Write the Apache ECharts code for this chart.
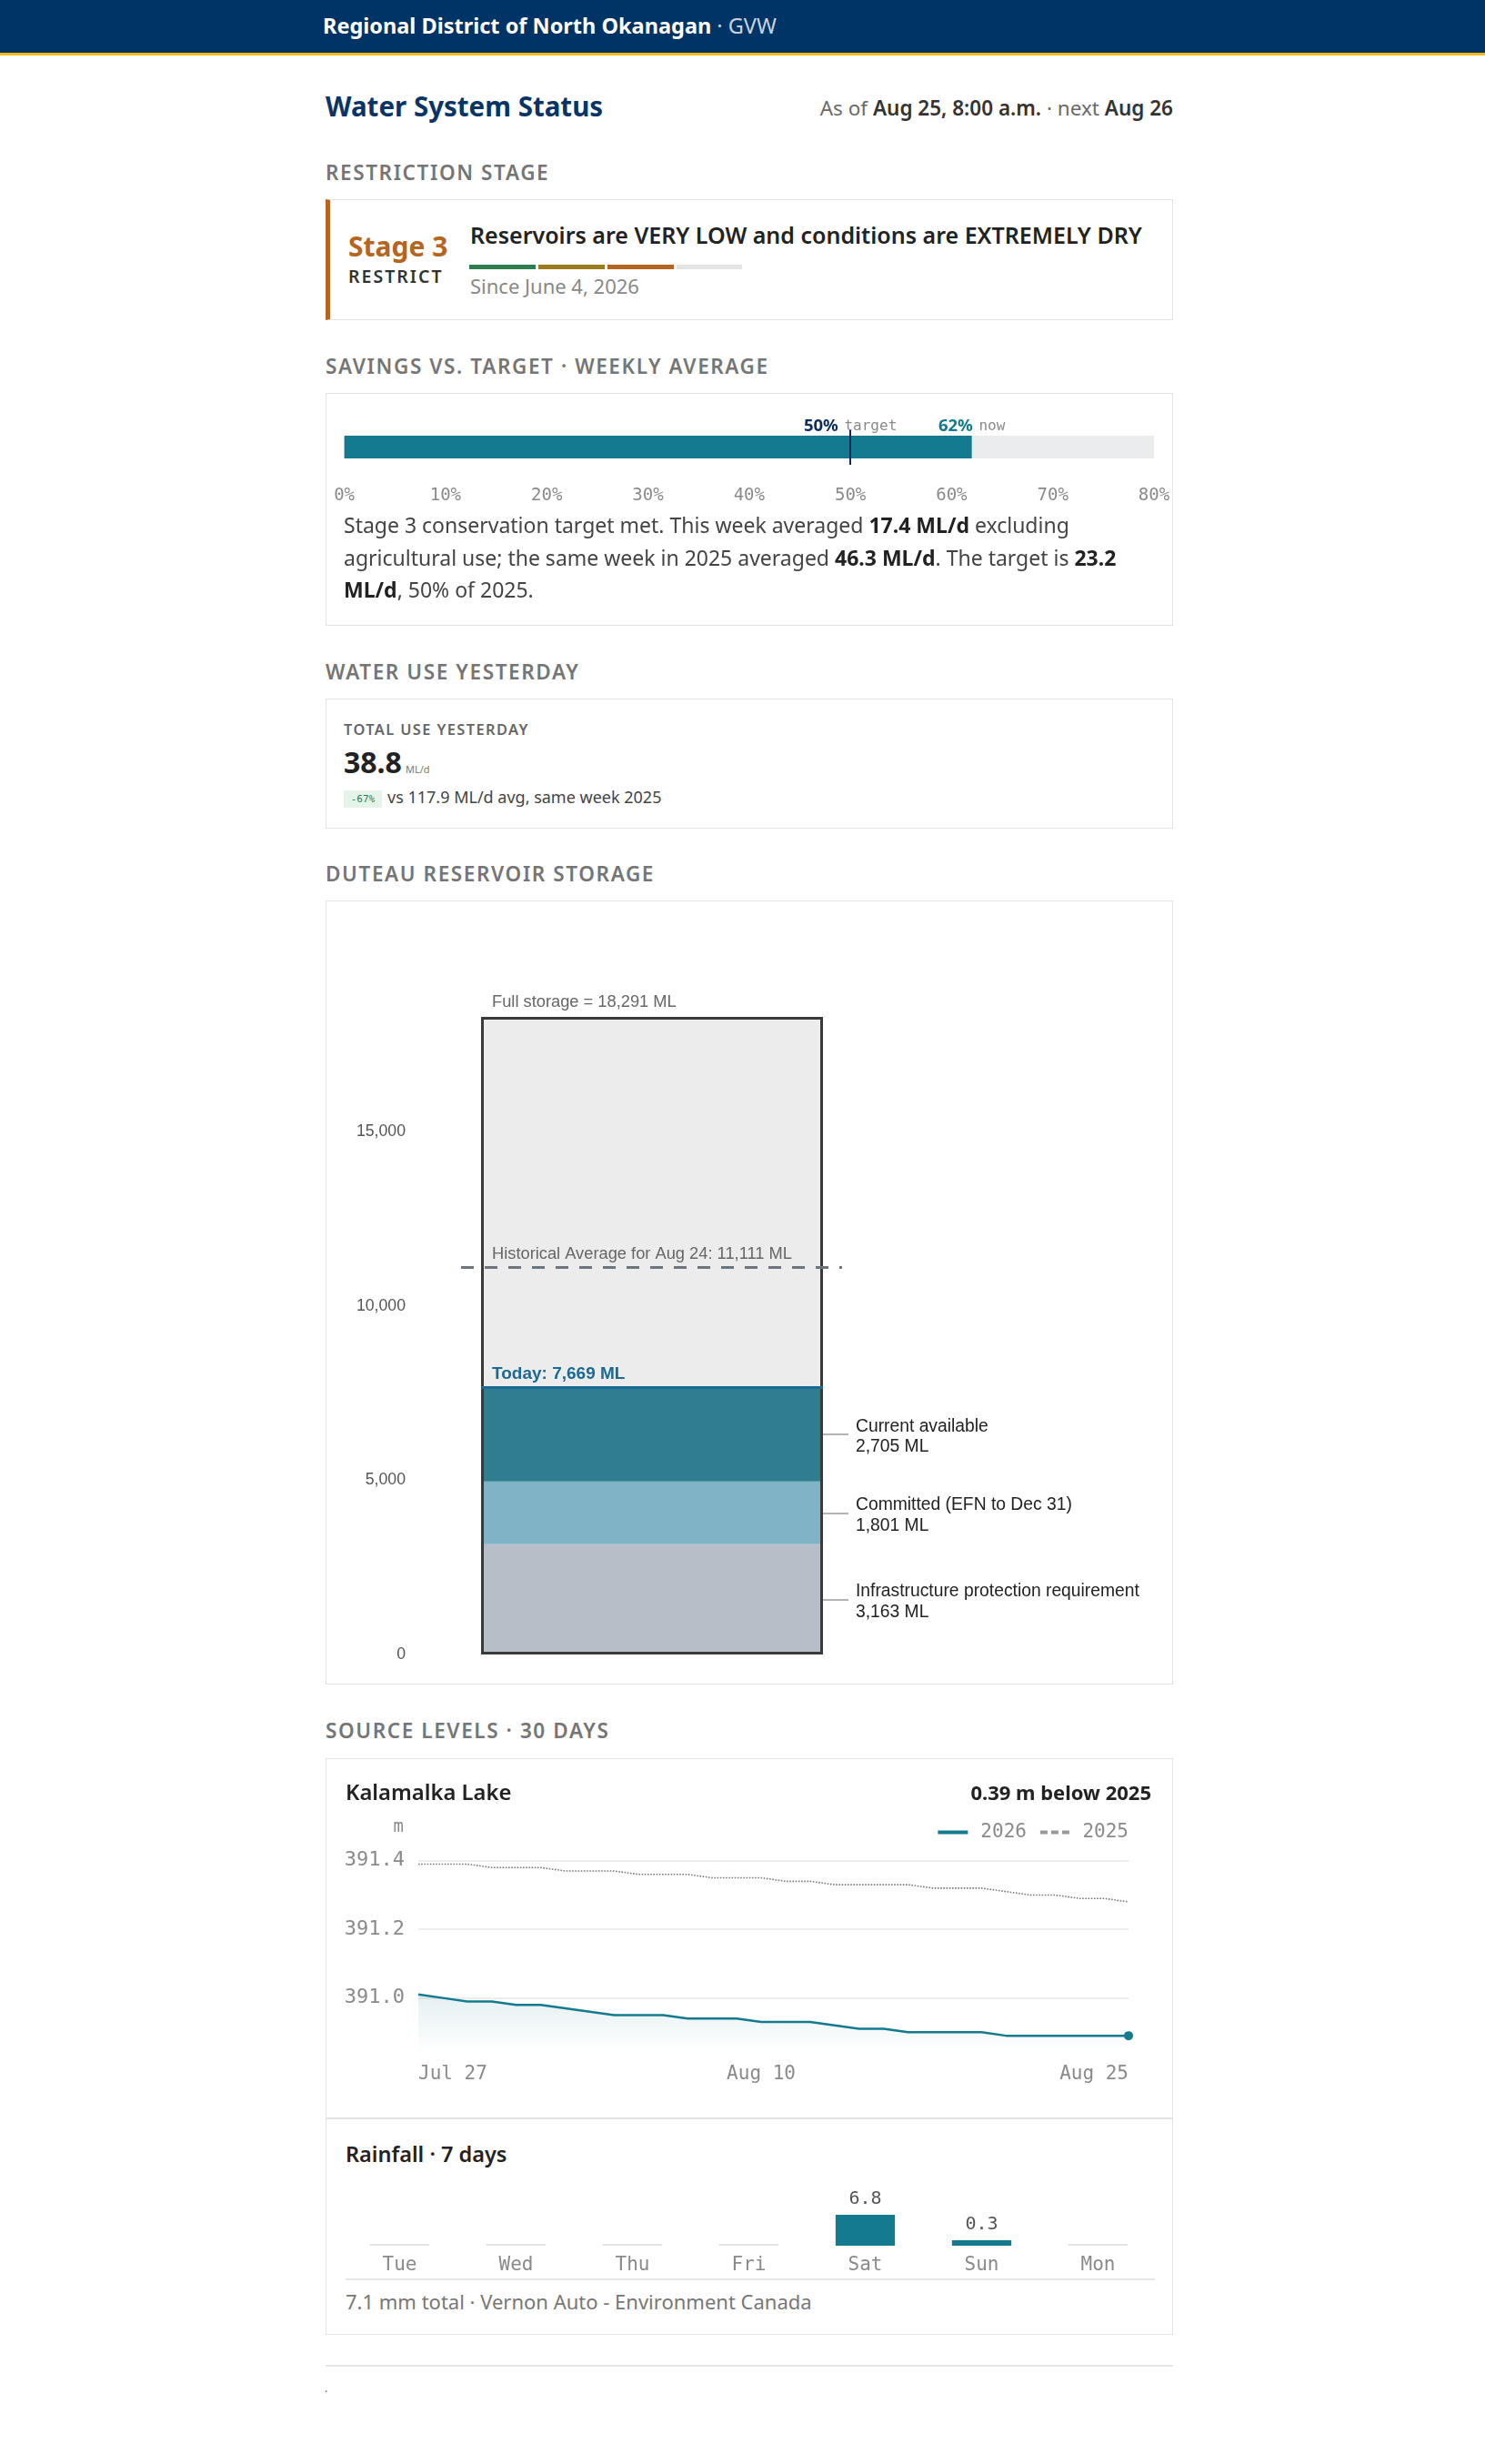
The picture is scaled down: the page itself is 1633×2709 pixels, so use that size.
<!DOCTYPE html>
<html><head><meta charset="utf-8">
<script src="https://cdn.jsdelivr.net/npm/echarts@6/dist/echarts.min.js"></script>
<style>
html,body{margin:0;padding:0;background:#fff;}
body{width:1633px;height:2709px;position:relative;font-family:'Noto Sans',sans-serif;overflow:hidden;}
.abs{position:absolute;white-space:nowrap;line-height:1;}
.hdr{position:absolute;left:0;top:0;width:1633px;height:58px;background:#003366;border-bottom:3px solid #fcba19;}
.sec{position:absolute;left:358px;font-size:22.5px;font-weight:600;letter-spacing:1.6px;color:#757575;line-height:1;white-space:nowrap;}
.box{position:absolute;left:358px;width:932px;border:1.5px solid #e3e3e3;box-sizing:border-box;background:#fff;}
.chart{position:absolute;}
b{font-weight:700;color:#222;}
</style></head><body>
<div class="hdr"></div>
<div class="abs" style="left:355px;top:17px;font-size:23.5px;color:#fff;font-weight:700;">Regional District of North Okanagan<span style="font-weight:400;color:#c9d3e0;"> · GVW</span></div>

<div class="abs" style="left:358px;top:102px;font-size:29.5px;font-weight:700;color:#0b3466;">Water System Status</div>
<div class="abs" style="right:343px;top:108px;font-size:22.5px;color:#6a6a6a;">As of <b style="color:#333;font-weight:600;">Aug 25, 8:00 a.m.</b> · next <b style="color:#333;font-weight:600;">Aug 26</b></div>

<div class="sec" style="top:179px;">RESTRICTION STAGE</div>
<div class="box" style="top:219px;height:133px;border-left:5px solid #b5651d;"></div>
<div class="abs" style="left:383px;top:256px;font-size:30px;font-weight:700;color:#b5651d;">Stage 3</div>
<div class="abs" style="left:383px;top:294px;font-size:19.5px;font-weight:600;letter-spacing:2px;color:#333;">RESTRICT</div>
<div class="abs" style="left:517px;top:246px;font-size:25px;font-weight:600;color:#222;">Reservoirs are VERY LOW and conditions are EXTREMELY DRY</div>
<div class="abs" style="left:516px;top:291px;width:73px;height:5px;background:#2e7d4f;"></div>
<div class="abs" style="left:592px;top:291px;width:73px;height:5px;background:#9a7d1a;"></div>
<div class="abs" style="left:668px;top:291px;width:73px;height:5px;background:#b5651d;"></div>
<div class="abs" style="left:744px;top:291px;width:72px;height:5px;background:#e4e4e4;"></div>
<div class="abs" style="left:517px;top:303px;font-size:22px;color:#888;">Since June 4, 2026</div>

<div class="sec" style="top:392px;">SAVINGS VS. TARGET · WEEKLY AVERAGE</div>
<div class="box" style="top:432px;height:256px;"></div>
<div id="savings" class="chart" style="left:358px;top:432px;width:932px;height:130px;"></div>
<div style="position:absolute;left:378px;top:560px;width:880px;font-size:23px;line-height:35.5px;color:#444;">Stage 3 conservation target met. This week averaged <b>17.4 ML/d</b> excluding agricultural use; the same week in 2025 averaged <b>46.3 ML/d</b>. The target is <b>23.2 ML/d</b>, 50% of 2025.</div>

<div class="sec" style="top:728px;">WATER USE YESTERDAY</div>
<div class="box" style="top:768px;height:143px;"></div>
<div class="abs" style="left:378px;top:794px;font-size:16.4px;font-weight:600;letter-spacing:1.4px;color:#666;">TOTAL USE YESTERDAY</div>
<div class="abs" style="left:378px;top:822px;font-size:32px;font-weight:700;color:#222;">38.8<span style="font-size:11px;font-weight:400;color:#777;margin-left:4px;">ML/d</span></div>
<div class="abs" style="left:378px;top:869px;height:19px;width:42px;background:#e5f3e9;color:#2e7d4f;font-family:'DejaVu Sans Mono',monospace;font-size:11px;line-height:19px;text-align:center;">-67%</div>
<div class="abs" style="left:426px;top:867px;font-size:18px;color:#444;">vs 117.9 ML/d avg, same week 2025</div>

<div class="sec" style="top:950px;">DUTEAU RESERVOIR STORAGE</div>
<div class="box" style="top:990px;height:862px;"></div>
<div id="reservoir" class="chart" style="left:358px;top:990px;width:932px;height:862px;"></div>

<div class="sec" style="top:1892px;">SOURCE LEVELS · 30 DAYS</div>
<div class="box" style="top:1933px;height:634px;"></div>
<div id="lake" class="chart" style="left:358px;top:1933px;width:932px;height:396px;"></div>
<div class="abs" style="left:380px;top:1959px;font-size:23.8px;font-weight:600;color:#222;">Kalamalka Lake</div>
<div class="abs" style="right:367px;top:1959px;font-size:22px;font-weight:700;color:#222;">0.39 m below 2025</div>
<div class="abs" style="left:358px;top:2328px;width:932px;height:1.5px;background:#e3e3e3;"></div>
<div class="abs" style="left:380px;top:2357px;font-size:23.5px;font-weight:600;color:#222;">Rainfall · 7 days</div>
<div id="rain" class="chart" style="left:358px;top:2330px;width:932px;height:176px;"></div>
<div class="abs" style="left:380px;top:2505px;width:890px;height:1.5px;background:#e6e6e6;"></div>
<div class="abs" style="left:380px;top:2519px;font-size:22px;color:#777;">7.1 mm total · Vernon Auto - Environment Canada</div>

<div class="abs" style="left:358px;top:2600px;width:932px;height:1.5px;background:#e6e6e6;"></div>
<div class="abs" style="left:357px;top:2620px;font-size:12px;color:#666;">.</div>

<script>
// ---------- data ----------
const savingsAxisTicks = [0, 10, 20, 30, 40, 50, 60, 70, 80];
const savingsNowPct = [62];
const savingsTargetPct = [50];

const resCategories = ['Duteau Reservoir'];
const resSegmentNames = ['Infrastructure protection requirement', 'Committed (EFN to Dec 31)', 'Current available'];
const resSegmentValues = [3163, 1801, 2705];
const resFullStorage = [18291];
const resToday = [7669];
const resHistAvg = [11111];
const resHistLabel = ['Historical Average for Aug 24'];
const resYTicks = [0, 5000, 10000, 15000];

const lakeDates = ['Jul 27','Jul 28','Jul 29','Jul 30','Jul 31','Aug 1','Aug 2','Aug 3','Aug 4','Aug 5',
  'Aug 6','Aug 7','Aug 8','Aug 9','Aug 10','Aug 11','Aug 12','Aug 13','Aug 14','Aug 15',
  'Aug 16','Aug 17','Aug 18','Aug 19','Aug 20','Aug 21','Aug 22','Aug 23','Aug 24','Aug 25'];
const lake2026 = [391.01,391.00,390.99,390.99,390.98,390.98,390.97,390.96,390.95,390.95,
  390.95,390.94,390.94,390.94,390.93,390.93,390.93,390.92,390.91,390.91,
  390.90,390.90,390.90,390.90,390.89,390.89,390.89,390.89,390.89,390.89];
const lake2025 = [391.39,391.39,391.39,391.38,391.38,391.38,391.37,391.37,391.37,391.36,
  391.36,391.36,391.35,391.35,391.35,391.34,391.34,391.33,391.33,391.33,
  391.33,391.32,391.32,391.32,391.31,391.30,391.30,391.29,391.29,391.28];
const lakeYTicks = [391.0, 391.2, 391.4];
const lakeYRange = [390.84, 391.44];
const lakeXLabels = ['Jul 27', 'Aug 10', 'Aug 25'];

const rainDays = ['Tue', 'Wed', 'Thu', 'Fri', 'Sat', 'Sun', 'Mon'];
const rainMm = [0, 0, 0, 0, 6.8, 0.3, 0];

// ---------- styles ----------
const TEAL = '#137a8f';
const CLEAR = 'rgba(0,0,0,0)';
const MONO = "'DejaVu Sans Mono', monospace";
const SANS = "'Noto Sans', sans-serif";
const ARIAL = "'Liberation Sans', Arial, sans-serif";
const fmt = v => v.toLocaleString('en-US');

// ---------- savings ----------
const savings = echarts.init(document.getElementById('savings'));
savings.setOption({
  animation: false,
  grid: {left: 20.6, width: 890.4, top: 40, height: 39},
  xAxis: {
    type: 'value', min: savingsAxisTicks[0], max: savingsAxisTicks[savingsAxisTicks.length - 1], interval: 10,
    axisLabel: {formatter: '{value}%', fontFamily: MONO, fontSize: 19, color: '#8a8a8a', margin: 25},
    axisLine: {show: false}, axisTick: {show: false}, splitLine: {show: false}
  },
  yAxis: {type: 'category', data: ['Savings'], show: false},
  series: [{
    type: 'bar', data: savingsNowPct, barWidth: 25,
    itemStyle: {color: TEAL},
    showBackground: true, backgroundStyle: {color: '#ebeced'},
    markLine: {
      silent: true, symbol: 'none',
      data: [
        {xAxis: savingsTargetPct[0], lineStyle: {color: '#0b2d5b', width: 2, type: 'solid'},
         label: {show: true, position: 'end', distance: -6, formatter: () => '{a|' + savingsTargetPct[0] + '%}  {b|target}',
           rich: {a: {fontFamily: SANS, fontWeight: 700, fontSize: 18.5, color: '#0b2d5b'}, b: {fontFamily: MONO, fontSize: 16, color: '#8a8a8a'}}}},
        {xAxis: savingsNowPct[0], lineStyle: {color: CLEAR, width: 0},
         label: {show: true, position: 'end', distance: -6, formatter: () => '{a|' + savingsNowPct[0] + '%}  {b|now}',
           rich: {a: {fontFamily: SANS, fontWeight: 700, fontSize: 18.5, color: TEAL}, b: {fontFamily: MONO, fontSize: 16, color: '#8a8a8a'}}}}
      ]
    }
  }]
});

// ---------- reservoir ----------
const cumMid = [];
let acc = 0;
resSegmentValues.forEach(v => { cumMid.push(acc + v / 2); acc += v; });
const segColors = ['#b7bec8', '#80b3c6', '#2e7e8f'];
const yBase = {type: 'value', min: 0, max: resFullStorage[0]};
const reservoir = echarts.init(document.getElementById('reservoir'));
const resSeries = resSegmentValues.map((v, i) => ({
  type: 'bar', name: resSegmentNames[i], stack: 'st', xAxisIndex: 1, yAxisIndex: 1,
  data: [v], barWidth: '100%', barGap: '-100%', itemStyle: {color: segColors[i]}
}));
resSeries.push({
  type: 'bar', name: 'Remaining', stack: 'st', xAxisIndex: 1, yAxisIndex: 1,
  data: [resFullStorage[0] - acc], barWidth: '100%', barGap: '-100%', itemStyle: {color: '#ececec'}
});
resSeries.push({
  type: 'bar', name: 'Full', xAxisIndex: 1, yAxisIndex: 1, z: 5,
  data: [resFullStorage[0]], barWidth: '100%', barGap: '-100%',
  itemStyle: {color: CLEAR, borderColor: '#3a3a3a', borderWidth: 3},
  markLine: {
    silent: true, symbol: 'none', z: 6,
    data: [
      {yAxis: resFullStorage[0], lineStyle: {color: CLEAR, width: 0},
       label: {show: true, position: 'insideStartTop', distance: [12, 7], formatter: () => 'Full storage = ' + fmt(resFullStorage[0]) + ' ML',
         fontFamily: ARIAL, fontSize: 18.3, color: '#666'}},
      {yAxis: resToday[0], lineStyle: {color: '#1a6a93', width: 3, type: 'solid'},
       label: {show: true, position: 'insideStartTop', distance: [12, 5], formatter: () => 'Today: ' + fmt(resToday[0]) + ' ML',
         fontFamily: ARIAL, fontSize: 19, fontWeight: 'bold', color: '#1a6a93'}}
    ]
  }
});
resSeries.push({
  type: 'line', name: 'Hist', xAxisIndex: 0, yAxisIndex: 0, data: [],
  markLine: {
    silent: true, symbol: 'none', z: 7,
    data: [{yAxis: resHistAvg[0], lineStyle: {color: '#6c757d', width: 3, type: [14, 12]},
      label: {show: true, position: 'insideStartTop', distance: [34, 5], formatter: () => resHistLabel[0] + ': ' + fmt(resHistAvg[0]) + ' ML',
        fontFamily: ARIAL, fontSize: 18.3, color: '#666'}}]
  }
});
resSeries.push({
  type: 'line', name: 'Leaders', xAxisIndex: 2, yAxisIndex: 2, data: [],
  markLine: {
    silent: true, symbol: 'none',
    data: cumMid.map((m, i) => ({yAxis: m, lineStyle: {color: '#9a9a9a', width: 1.5, type: 'solid'},
      label: {show: true, position: 'end', distance: 8, offset: [0, 3],
        formatter: () => resSegmentNames[i] + '\n' + fmt(resSegmentValues[i]) + ' ML',
        fontFamily: ARIAL, fontSize: 19.3, lineHeight: 22.5, color: '#222', align: 'left'}}))
  }
});
reservoir.setOption({
  animation: false,
  grid: [
    {left: 149, width: 419, top: 128, height: 701},
    {left: 171, width: 376, top: 128, height: 701},
    {left: 547, width: 28, top: 128, height: 701}
  ],
  xAxis: [
    {gridIndex: 0, type: 'value', min: 0, max: 1, show: false},
    {gridIndex: 1, type: 'category', data: resCategories, show: false},
    {gridIndex: 2, type: 'value', min: 0, max: 1, show: false}
  ],
  yAxis: [
    Object.assign({gridIndex: 0, show: false}, yBase),
    Object.assign({gridIndex: 1, interval: 5000,
      axisLabel: {customValues: resYTicks, formatter: v => fmt(v), fontFamily: ARIAL, fontSize: 17.7, color: '#555', margin: 83},
      axisLine: {show: false}, axisTick: {show: false}, splitLine: {show: false}}, yBase),
    Object.assign({gridIndex: 2, show: false}, yBase)
  ],
  series: resSeries
});

// ---------- lake ----------
const lake = echarts.init(document.getElementById('lake'));
lake.setOption({
  animation: false,
  legend: {
    right: 44, top: 66, itemWidth: 33, itemHeight: 4, itemGap: 15,
    textStyle: {fontFamily: MONO, fontSize: 21, color: '#8a8a8a', padding: [0, 0, 0, 9]},
    data: [
      {name: '2026', icon: 'rect', itemStyle: {color: TEAL}},
      {name: '2025', icon: 'path://M0,0h8v4h-8zM12,0h8v4h-8zM24,0h8v4h-8z', itemStyle: {color: '#999'}}
    ]
  },
  grid: {left: 102, right: 49, top: 97.6, bottom: 72},
  xAxis: {
    type: 'category', data: lakeDates, boundaryGap: false,
    axisLine: {show: false}, axisTick: {show: false},
    axisLabel: {interval: (i, v) => lakeXLabels.includes(v), fontFamily: MONO, fontSize: 21, color: '#8a8a8a', margin: 13,
      alignMinLabel: 'left', alignMaxLabel: 'right', showMinLabel: true, showMaxLabel: true}
  },
  yAxis: {
    type: 'value', min: lakeYRange[0], max: lakeYRange[1],
    name: 'm', nameLocation: 'end', nameGap: 12,
    nameTextStyle: {fontFamily: MONO, fontSize: 19, color: '#8a8a8a', align: 'right', padding: [0, 16, 0, 0]},
    axisLine: {show: false}, axisTick: {show: false}, splitLine: {show: false},
    axisLabel: {customValues: lakeYTicks, formatter: v => v.toFixed(1), fontFamily: MONO, fontSize: 22, color: '#8a8a8a', margin: 15}
  },
  series: [
    {
      name: '2025', type: 'line', data: lake2025, symbol: 'none', z: 2,
      lineStyle: {color: '#7a7a7a', width: 1.6, type: 'dotted'}, itemStyle: {color: '#999'},
      markLine: {silent: true, symbol: 'none', z: 1, label: {show: false},
        data: lakeYTicks.map(v => ({yAxis: v})), lineStyle: {color: '#ededed', width: 2, type: 'solid'}}
    },
    {
      name: '2026', type: 'line', data: lake2026, symbol: 'none', z: 3,
      lineStyle: {color: TEAL, width: 2.5}, itemStyle: {color: TEAL},
      areaStyle: {origin: 'start', color: new echarts.graphic.LinearGradient(0, 0, 0, 1, [
        {offset: 0, color: 'rgba(19,122,143,0.16)'}, {offset: 1, color: 'rgba(19,122,143,0)'}])},
      markPoint: {silent: true, symbol: 'circle', symbolSize: 10, label: {show: false}, itemStyle: {color: TEAL},
        data: [{coord: [lakeDates[lakeDates.length - 1], lake2026[lake2026.length - 1]]}]}
    }
  ]
});

// ---------- rain ----------
const rain = echarts.init(document.getElementById('rain'));
rain.setOption({
  animation: false,
  grid: {left: 17.5, width: 896, top: 105, height: 34},
  xAxis: {type: 'category', data: rainDays, axisLine: {show: false}, axisTick: {show: false},
    axisLabel: {fontFamily: MONO, fontSize: 21, color: '#8a8a8a', margin: 11}},
  yAxis: {type: 'value', min: 0, max: Math.max(...rainMm), show: false},
  series: [{
    type: 'custom',
    data: rainMm.map((v, i) => [i, v]),
    renderItem: (params, api) => {
      const v = api.value(1);
      const base = api.coord([api.value(0), 0]);
      const top = api.coord([api.value(0), v]);
      const bw = api.size([1, 0])[0] * 0.51;
      if (v > 0) {
        const h = Math.max(base[1] - top[1], 6);
        return {type: 'group', children: [
          {type: 'rect', shape: {x: base[0] - bw / 2, y: base[1] - h, width: bw, height: h}, style: {fill: TEAL}},
          {type: 'text', style: {text: v.toFixed(1), x: base[0], y: base[1] - h - 7, align: 'center', verticalAlign: 'bottom',
            font: "20px 'DejaVu Sans Mono', monospace", fill: '#555'}}
        ]};
      }
      return {type: 'rect', shape: {x: base[0] - bw / 2, y: base[1] - 2, width: bw, height: 2}, style: {fill: '#e2e2e2'}};
    }
  }]
});
</script>
</body></html>
